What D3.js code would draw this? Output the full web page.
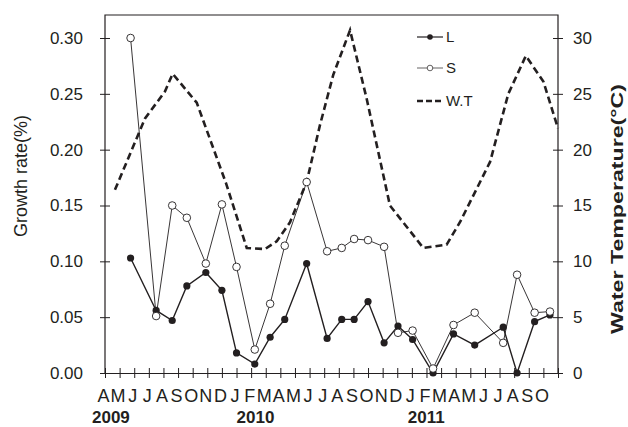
<!DOCTYPE html>
<html>
  <head>
    <script src="https://cdn.jsdelivr.net/npm/d3@7"></script>
    <style>
      body { margin: 0; background: #fff; }
      text { font-family: Arial, "Liberation Sans", sans-serif; fill: #231f20; }
    </style>
  </head>
  <body>
    <svg id="growth" width="628" height="427"></svg>
    <script>
    // month letters, one per tick, Apr 2009 .. Oct 2011
    var months = ["A","M","J","J","A","S","O","N","D",
                  "J","F","M","A","M","J","J","A","S","O","N","D",
                  "J","F","M","A","M","J","J","A","S","O"];
    var years = [{label: "2009", at: 0, dx: -13}, {label: "2010", at: 9, dx: 0}, {label: "2011", at: 21, dx: -4}];

    // sampling dates in month units (0 = April 2009)
    var sampleMonths = [1.75, 3.5, 4.6, 5.6, 6.9, 8.0, 9.0, 10.25, 11.3, 12.3, 13.8, 15.2, 16.2,
                        17.05, 18.0, 19.1, 20.05, 21.05, 22.45, 23.85, 25.3, 27.25, 28.2, 29.4, 30.45];
    var growthL = [0.103, 0.056, 0.047, 0.078, 0.090, 0.074, 0.018, 0.008, 0.032, 0.048, 0.098, 0.031, 0.048,
                   0.048, 0.064, 0.027, 0.042, 0.030, 0.000, 0.035, 0.025, 0.041, 0.000, 0.046, 0.052];
    var growthS = [0.300, 0.051, 0.150, 0.139, 0.098, 0.151, 0.095, 0.021, 0.062, 0.114, 0.171, 0.109, 0.112,
                   0.120, 0.119, 0.113, 0.036, 0.038, 0.004, 0.043, 0.054, 0.027, 0.088, 0.054, 0.055];

    var tempMonths = [0.68, 2.74, 4.1, 4.63, 6.28, 8.28, 9.7, 10.95, 11.75, 12.66, 13.8, 14.71, 15.62,
                      16.77, 17.9, 19.5, 21.78, 23.38, 24.29, 26.35, 27.6, 28.8, 30.0, 31.0];
    var waterTemp = [16.4, 22.8, 25.2, 26.8, 24.2, 17.0, 11.2, 11.1, 11.8, 13.5, 17.1, 22.2, 26.7,
                     30.7, 24.6, 15.0, 11.2, 11.5, 13.5, 18.9, 25.0, 28.4, 26.1, 21.9];

    var growthTicks = [0, 0.05, 0.10, 0.15, 0.20, 0.25, 0.30];
    var tempTicks = [0, 5, 10, 15, 20, 25, 30];

    var ink = "#231f20";
    var svg = d3.select("#growth");

    var x = d3.scaleLinear().domain([0, 31]).range([105, 558]);
    var y = d3.scaleLinear().domain([0, 0.30]).range([373, 38]);
    var yT = d3.scaleLinear().domain([0, 30]).range([373, 38]);

    // frame: left, top, right
    svg.append("path")
      .attr("d", "M" + x(0) + "," + y(0) + "V15H" + x(31) + "V" + y(0))
      .attr("fill", "none").attr("stroke", ink).attr("stroke-width", 1.2);

    // left axis
    var gl = svg.append("g").attr("transform", "translate(" + x(0) + ",0)")
      .call(d3.axisLeft(y).tickValues(growthTicks).tickFormat(d3.format(".2f")).tickSizeOuter(0));
    gl.select(".domain").remove();
    gl.selectAll(".tick line").attr("x1", -5).attr("x2", 5).attr("stroke", ink);
    gl.selectAll(".tick text").attr("x", -22).attr("font-size", 17).attr("font-family", null).attr("fill", ink);

    // right axis
    var gr = svg.append("g").attr("transform", "translate(" + x(31) + ",0)")
      .call(d3.axisRight(yT).tickValues(tempTicks).tickSizeOuter(0));
    gr.select(".domain").remove();
    gr.selectAll(".tick line").attr("x1", -5).attr("x2", 5).attr("stroke", ink);
    gr.selectAll(".tick text").attr("x", 15).attr("font-size", 17).attr("font-family", null).attr("fill", ink);

    // bottom axis
    var gb = svg.append("g").attr("transform", "translate(0," + y(0) + ")")
      .call(d3.axisBottom(x).tickValues(d3.range(32)).tickFormat(function(i){ return months[i] || ""; }).tickSizeOuter(0));
    gb.select(".domain").attr("stroke", ink).attr("stroke-width", 1.2);
    gb.selectAll(".tick line").attr("y1", -5).attr("y2", 5).attr("stroke", ink);
    gb.selectAll(".tick text").attr("y", 29).attr("dy", 0).attr("dx", -2)
      .attr("font-size", 18).attr("font-family", null).attr("fill", ink);

    svg.append("g").selectAll("text").data(years).enter().append("text")
      .attr("x", function(d){ return x(d.at) + d.dx; })
      .attr("y", 423)
      .attr("font-size", 17).attr("font-weight", "bold")
      .text(function(d){ return d.label; });

    // axis titles
    svg.append("text")
      .attr("transform", "translate(27,176) rotate(-90)")
      .attr("text-anchor", "middle").attr("font-size", 18)
      .text("Growth rate(%)");
    svg.append("text")
      .attr("transform", "translate(623,209) rotate(-90)")
      .attr("text-anchor", "middle").attr("font-size", 16).attr("font-weight", "bold")
      .attr("textLength", 250).attr("lengthAdjust", "spacingAndGlyphs")
      .text("Water  Temperature(°C)");

    // water temperature
    var tempPts = tempMonths.map(function(m, i){ return [m, waterTemp[i]]; });
    svg.append("path")
      .attr("d", d3.line().x(function(d){ return x(d[0]); }).y(function(d){ return yT(d[1]); })(tempPts))
      .attr("fill", "none").attr("stroke", ink).attr("stroke-width", 2.6).attr("stroke-dasharray", "7,4");

    var line = d3.line().x(function(d){ return x(d[0]); }).y(function(d){ return y(d[1]); });
    var ptsL = sampleMonths.map(function(m, i){ return [m, growthL[i]]; });
    var ptsS = sampleMonths.map(function(m, i){ return [m, growthS[i]]; });

    // L series
    svg.append("path").attr("d", line(ptsL))
      .attr("fill", "none").attr("stroke", ink).attr("stroke-width", 1.4);
    svg.append("g").selectAll("circle").data(ptsL).enter().append("circle")
      .attr("cx", function(d){ return x(d[0]); }).attr("cy", function(d){ return y(d[1]); })
      .attr("r", 3.6).attr("fill", ink);

    // S series
    svg.append("path").attr("d", line(ptsS))
      .attr("fill", "none").attr("stroke", ink).attr("stroke-width", 0.9);
    svg.append("g").selectAll("circle").data(ptsS).enter().append("circle")
      .attr("cx", function(d){ return x(d[0]); }).attr("cy", function(d){ return y(d[1]); })
      .attr("r", 3.8).attr("fill", "#fff").attr("stroke", ink).attr("stroke-width", 0.9);

    // legend
    var legend = svg.append("g").attr("transform", "translate(417,0)");
    legend.append("line").attr("x1", 0).attr("x2", 26).attr("y1", 37).attr("y2", 37)
      .attr("stroke", ink).attr("stroke-width", 1.2);
    legend.append("circle").attr("cx", 13).attr("cy", 37).attr("r", 2.8).attr("fill", ink);
    legend.append("line").attr("x1", 0).attr("x2", 26).attr("y1", 68).attr("y2", 68)
      .attr("stroke", ink).attr("stroke-width", 0.7);
    legend.append("circle").attr("cx", 13).attr("cy", 68).attr("r", 2.8)
      .attr("fill", "#fff").attr("stroke", ink).attr("stroke-width", 0.7);
    legend.append("line").attr("x1", 0).attr("x2", 26).attr("y1", 101).attr("y2", 101)
      .attr("stroke", ink).attr("stroke-width", 2.4).attr("stroke-dasharray", "6,3");
    legend.selectAll("text").data([["L", 37], ["S", 68], ["W.T", 101]]).enter().append("text")
      .attr("x", 29).attr("y", function(d){ return d[1]; }).attr("dy", "0.36em")
      .attr("font-size", 15).text(function(d){ return d[0]; });
    </script>
  </body>
</html>
